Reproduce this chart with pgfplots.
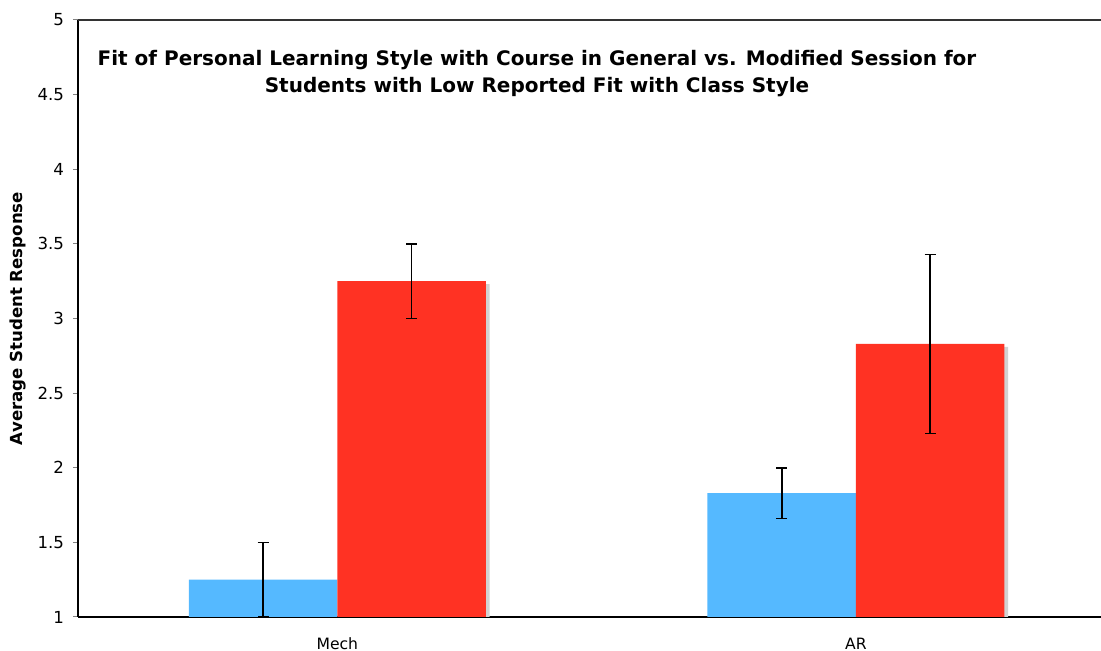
\documentclass[border=0pt]{standalone}
\usepackage{pgfplots}
\pgfplotsset{compat=1.18}
\usepackage{fontspec}
\setmainfont{DejaVu Sans}
\definecolor{cblue}{RGB}{85,185,255}
\definecolor{cred}{RGB}{255,50,35}
\begin{document}
\begin{tikzpicture}
\begin{axis}[
  scale only axis,
  width=511.5pt, height=298.5pt,
  xmin=-0.5, xmax=1.4725,
  ymin=1, ymax=5,
  ytick={1,1.5,2,2.5,3,3.5,4,4.5,5},
  yticklabels={1,1.5,2,2.5,3,3.5,4,4.5,5},
  xtick={0,1}, xticklabels={Mech,AR},
  extra x ticks={-0.5,0.5}, extra x tick labels={},
  extra x tick style={major tick length=2pt, tick align=outside, tick style={gray}},
  axis x line*=bottom, axis y line*=left,
  axis line style={black, line width=0.8pt},
  x tick style={draw=none},
  y tick style={gray, line width=0.5pt},
  tick align=outside, major tick length=2.5pt,
  /pgf/number format/assume math mode=true,
  xticklabel style={font=\fontsize{7.8}{9}\selectfont, yshift=-4.5pt},
  yticklabel style={font=\fontsize{8.3}{10}\selectfont, xshift=-1pt},
  ylabel={Average Student Response},
  ylabel style={at={(axis description cs:-0.0587,0.5)}, anchor=center, font=\bfseries\fontsize{8.3}{10}\selectfont},
  ybar, 
  bar width=74.25pt,
  clip=false,
  error bars/error bar style={black, line width=0.8pt},
  error bars/error mark options={black, rotate=90, mark size=2.75pt, line width=0.8pt},
]
% shadows
\addplot[fill=gray!35, draw=none, bar shift=39pt] coordinates {(0,3.23) (1,2.81)};
\addplot[fill=cblue, draw=none, bar shift=-37.125pt,
  error bars/.cd, y dir=both, y explicit]
  coordinates {(0,1.25) +- (0,0.25) (1,1.83) +- (0,0.17)};
\addplot[fill=cred, draw=none, bar shift=37.125pt,
  error bars/.cd, y dir=both, y explicit]
  coordinates {(0,3.25) +- (0,0.25) (1,2.83) +- (0,0.6)};
\draw[black!80, line width=1pt] (rel axis cs:0,1) -- (rel axis cs:1,1);
\node[align=center, font=\bfseries\fontsize{10}{13.5}\selectfont] at (rel axis cs:0.4487,0.910)
  {Fit of Personal Learning Style with Course in General vs. Modified Session for\\
   Students with Low Reported Fit with Class Style};
\end{axis}
\pgfresetboundingbox
\path ([xshift=-39pt,yshift=-17pt]current axis.south west) rectangle ([yshift=10pt]current axis.north east);
\end{tikzpicture}
\end{document}
